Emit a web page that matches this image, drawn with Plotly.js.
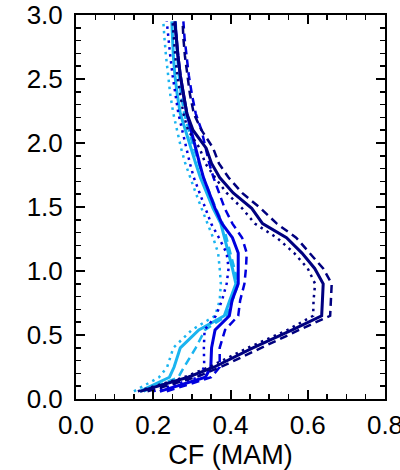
<!DOCTYPE html>
<html>
<head>
<meta charset="utf-8">
<script src="https://cdn.plot.ly/plotly-3.0.1.min.js"></script>
<style>html,body{margin:0;padding:0;background:#fff;}#chart{width:400px;height:470px;}</style>
</head>
<body>
<div id="chart"></div>
<script>
// Height levels (y axis)
const heights = [0.06, 0.17, 0.25, 0.40, 0.54, 0.65, 0.77, 0.90, 1.02, 1.14, 1.26, 1.37, 1.49, 1.61, 1.73, 1.84, 1.96, 2.10, 2.23, 2.38, 2.53, 2.68, 2.82, 2.95];

// Navy series
const navySolid  = [0.166, 0.290, 0.358, 0.458, 0.560, 0.636, 0.638, 0.640, 0.618, 0.585, 0.545, 0.483, 0.455, 0.407, 0.372, 0.351, 0.337, 0.303, 0.287, 0.278, 0.270, 0.264, 0.259, 0.256];
const navyDashed = [0.185, 0.310, 0.375, 0.478, 0.578, 0.658, 0.660, 0.662, 0.640, 0.605, 0.570, 0.520, 0.478, 0.430, 0.395, 0.370, 0.355, 0.325, 0.305, 0.295, 0.288, 0.282, 0.278, 0.276];
const navyDotted = [0.160, 0.280, 0.345, 0.445, 0.548, 0.614, 0.615, 0.619, 0.600, 0.565, 0.520, 0.463, 0.430, 0.390, 0.360, 0.335, 0.320, 0.290, 0.278, 0.270, 0.262, 0.257, 0.253, 0.250];

// Blue series
const blueSolid  = [0.217, 0.335, 0.349, 0.351, 0.360, 0.397, 0.404, 0.420, 0.420, 0.420, 0.405, 0.378, 0.360, 0.345, 0.330, 0.320, 0.310, 0.298, 0.287, 0.278, 0.270, 0.264, 0.259, 0.256];
const blueDashed = [0.235, 0.350, 0.372, 0.372, 0.386, 0.420, 0.425, 0.436, 0.440, 0.442, 0.430, 0.405, 0.385, 0.370, 0.356, 0.345, 0.335, 0.325, 0.310, 0.300, 0.292, 0.286, 0.281, 0.278];
const blueDotted = [0.200, 0.318, 0.332, 0.331, 0.333, 0.362, 0.378, 0.390, 0.395, 0.390, 0.370, 0.350, 0.335, 0.320, 0.305, 0.295, 0.285, 0.275, 0.265, 0.257, 0.250, 0.244, 0.240, 0.235];

// Light blue series
const cyanSolid  = [0.165, 0.242, 0.254, 0.270, 0.318, 0.384, 0.398, 0.414, 0.405, 0.395, 0.385, 0.375, 0.355, 0.338, 0.322, 0.310, 0.298, 0.284, 0.270, 0.262, 0.256, 0.252, 0.249, 0.248];
const cyanDashed = [0.175, 0.265, 0.280, 0.310, 0.334, 0.390, 0.405, 0.420, 0.410, 0.400, 0.390, 0.380, 0.362, 0.345, 0.330, 0.318, 0.305, 0.292, 0.280, 0.272, 0.266, 0.262, 0.260, 0.258];
const cyanDotted = [0.150, 0.215, 0.236, 0.252, 0.300, 0.360, 0.372, 0.375, 0.372, 0.368, 0.355, 0.340, 0.325, 0.310, 0.295, 0.283, 0.272, 0.262, 0.252, 0.244, 0.238, 0.233, 0.229, 0.226];

const NAVY = '#00007F', BLUE = '#0000DD', CYAN = '#1AB4F0';
const DASH = '8px,5px', DOT = '2.5px,4.5px';

function tr(x, color, dash, width) {
  return {x: x, y: heights, type: 'scatter', mode: 'lines', hoverinfo: 'skip',
          line: {color: color, dash: dash, width: width}, showlegend: false};
}

const data = [
  tr(cyanDotted, CYAN, DOT, 2.5), tr(cyanDashed, CYAN, DASH, 2.5), tr(cyanSolid, CYAN, 'solid', 3),
  tr(blueDotted, BLUE, DOT, 2.5), tr(blueDashed, BLUE, DASH, 2.5), tr(blueSolid, BLUE, 'solid', 3),
  tr(navyDotted, NAVY, DOT, 2.5), tr(navyDashed, NAVY, DASH, 2.5), tr(navySolid, NAVY, 'solid', 3)
];

const FONT = 'Liberation Sans, Arial, Helvetica, sans-serif';

const axisCommon = {
  showline: true, linecolor: '#000', linewidth: 2, mirror: 'allticks',
  ticks: 'inside', ticklen: 9, tickwidth: 2, tickcolor: '#000',
  showgrid: false, zeroline: false, tickformat: '.1f', ticklabeloverflow: 'allow',
  tickfont: {family: FONT, size: 26, color: '#000'}
};

const layout = {
  width: 400, height: 470,
  margin: {l: 76, r: 15, t: 15, b: 71},
  paper_bgcolor: '#fff', plot_bgcolor: '#fff',
  font: {family: FONT, color: '#000'},
  xaxis: Object.assign({}, axisCommon, {
    range: [0, 0.8], dtick: 0.2, tick0: 0, ticklabelstandoff: 2,
    minor: {dtick: 0.05, ticklen: 5, tickwidth: 1.5, tickcolor: '#000', ticks: 'inside'},
    title: {text: 'CF (MAM)', font: {family: FONT, size: 27, color: '#000'}, standoff: 2}
  }),
  yaxis: Object.assign({}, axisCommon, {
    range: [0, 3], dtick: 0.5, tick0: 0, ticklabelstandoff: 6,
    minor: {dtick: 0.1, ticklen: 5, tickwidth: 1.5, tickcolor: '#000', ticks: 'inside'}
  })
};

Plotly.newPlot('chart', data, layout, {displayModeBar: false, staticPlot: true});
</script>
</body>
</html>
